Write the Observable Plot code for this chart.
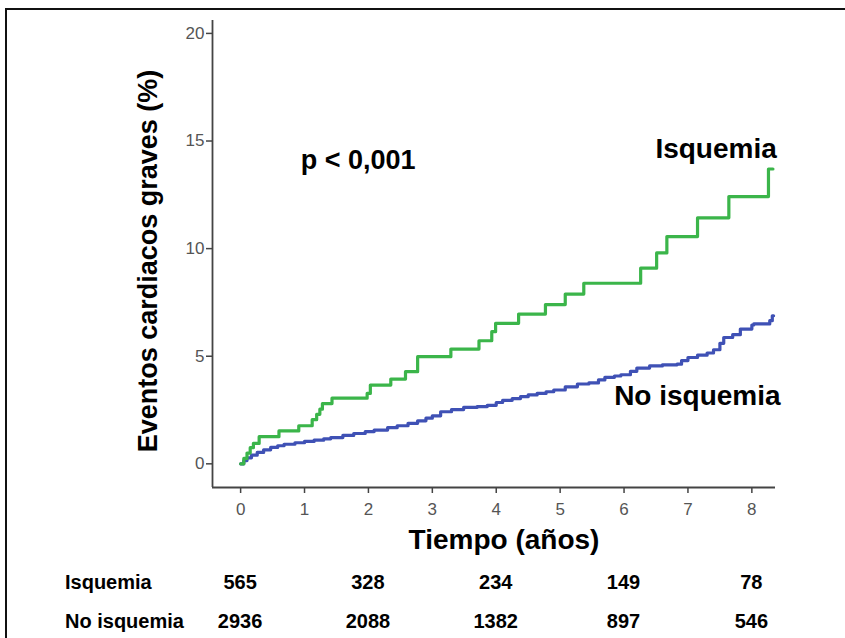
<!DOCTYPE html>
<html>
<head>
<meta charset="utf-8">
<script src="https://cdn.jsdelivr.net/npm/d3@7"></script>
<script src="https://cdn.jsdelivr.net/npm/@observablehq/plot@0.6"></script>
<style>
  html, body { margin: 0; padding: 0; background: #fff; width: 845px; height: 638px; overflow: hidden; }
  #frame { position: absolute; left: 5px; top: 8px; width: 900px; height: 700px; border-top: 2.5px solid #111; border-left: 2.5px solid #111; }
  #chart { position: absolute; left: 0; top: 0; }
  #chart svg { overflow: visible; }
</style>
</head>
<body>
<div id="frame"></div>
<div id="chart"></div>
<script>
// Isquemia (green) Kaplan-Meier step points: time (years), cumulative events (%)
const isqTime = [0, 0.05, 0.10, 0.15, 0.20, 0.29, 0.60, 0.91, 1.12, 1.19, 1.24, 1.28, 1.43, 1.98, 2.03, 2.35, 2.58, 2.77, 3.29, 3.73, 3.93, 3.99, 4.35, 4.77, 5.08, 5.37, 6.26, 6.51, 6.67, 7.15, 7.64, 8.26, 8.33];
const isqValue = [0, 0.25, 0.50, 0.75, 0.95, 1.26, 1.53, 1.77, 2.05, 2.30, 2.54, 2.80, 3.05, 3.27, 3.66, 3.94, 4.28, 4.98, 5.33, 5.72, 6.14, 6.53, 6.96, 7.40, 7.89, 8.39, 9.09, 9.80, 10.56, 11.43, 12.42, 13.70, 13.70];

// No isquemia (blue)
const noTime = [0, 0.05, 0.10, 0.17, 0.26, 0.36, 0.47, 0.58, 0.68, 0.85, 1.00, 1.15, 1.30, 1.41, 1.60, 1.77, 1.95, 2.09, 2.30, 2.45, 2.62, 2.77, 2.90, 3.00, 3.13, 3.30, 3.49, 3.70, 3.86, 4.00, 4.10, 4.25, 4.38, 4.50, 4.64, 4.78, 4.90, 5.08, 5.27, 5.45, 5.60, 5.70, 5.85, 5.95, 6.10, 6.20, 6.40, 6.60, 6.83, 6.90, 7.00, 7.15, 7.30, 7.40, 7.50, 7.56, 7.70, 7.82, 8.00, 8.03, 8.28, 8.32, 8.34];
const noValue = [0, 0.15, 0.28, 0.40, 0.53, 0.65, 0.76, 0.84, 0.91, 0.98, 1.04, 1.10, 1.16, 1.22, 1.32, 1.41, 1.50, 1.57, 1.68, 1.77, 1.88, 2.00, 2.12, 2.23, 2.42, 2.52, 2.62, 2.66, 2.72, 2.85, 2.95, 3.03, 3.12, 3.20, 3.27, 3.35, 3.43, 3.58, 3.71, 3.76, 3.90, 4.02, 4.08, 4.14, 4.30, 4.45, 4.55, 4.60, 4.63, 4.80, 4.94, 5.05, 5.15, 5.30, 5.60, 5.87, 6.00, 6.26, 6.45, 6.50, 6.65, 6.88, 6.88];

// Numbers at risk table
const riskYears = [0, 2, 4, 6, 8];
const riskIsq = [565, 328, 234, 149, 78];
const riskNo = [2936, 2088, 1382, 897, 546];
const rowLabels = ["Isquemia", "No isquemia"];

const xTicks = [0, 1, 2, 3, 4, 5, 6, 7, 8];
const yTicks = [0, 5, 10, 15, 20];
const xDomain = [-0.44, 8.37];
const yDomain = [-1.1, 20.6];

const GREEN = "#3bb54a";
const BLUE = "#3f51b5";
const boldFont = "'Liberation Sans', Arial, sans-serif";

const isq = isqTime.map((t, i) => ({t, v: isqValue[i]}));
const noi = noTime.map((t, i) => ({t, v: noValue[i]}));
const risk = riskYears.flatMap((y, i) => [
  {t: y, row: 0, n: riskIsq[i]},
  {t: y, row: 1, n: riskNo[i]}
]);

const plot = Plot.plot({
  width: 845,
  height: 638,
  marginLeft: 212,
  marginRight: 70,
  marginTop: 20,
  marginBottom: 151,
  style: {fontFamily: boldFont, background: "transparent", overflow: "visible"},
  x: {domain: xDomain, ticks: xTicks, label: null},
  y: {domain: yDomain, ticks: yTicks, label: null},
  marks: [
    Plot.axisX({ticks: xTicks, tickSize: 6, tickPadding: 9, fontSize: 17, color: "#555", stroke: "#444", strokeWidth: 1.5, label: null}),
    Plot.axisY({ticks: yTicks, tickSize: 6, tickPadding: 2, fontSize: 17, color: "#555", stroke: "#444", strokeWidth: 1.5, label: null}),
    Plot.ruleX([xDomain[0]], {stroke: "#444", strokeWidth: 1.8}),
    Plot.ruleY([yDomain[0]], {stroke: "#444", strokeWidth: 1.8}),
    Plot.line(noi, {x: "t", y: "v", curve: "step-after", stroke: BLUE, strokeWidth: 3.2}),
    Plot.line(isq, {x: "t", y: "v", curve: "step-after", stroke: GREEN, strokeWidth: 3.2}),
    Plot.text(["p < 0,001"], {x: 0.94, y: 14.1, text: d => d, textAnchor: "start", fontSize: 27, fontWeight: "bold", fill: "#000"}),
    Plot.text(["Isquemia"], {x: 8.39, y: 14.65, text: d => d, textAnchor: "end", fontSize: 28, fontWeight: "bold", fill: "#000"}),
    Plot.text(["No isquemia"], {x: 8.45, y: 3.16, text: d => d, textAnchor: "end", fontSize: 28, fontWeight: "bold", fill: "#000"}),
    Plot.text(["Tiempo (años)"], {frameAnchor: "bottom", dx: 10, dy: 61, text: d => d, fontSize: 28, fontWeight: "bold", fill: "#000"})
  ]
});

const svg = d3.select(plot);
const xs = plot.scale("x");

// Y axis title
svg.append("text")
  .attr("transform", "translate(148,261) rotate(-90)")
  .attr("text-anchor", "middle").attr("dy", "0.35em")
  .attr("font-family", boldFont).attr("font-weight", "bold").attr("font-size", 27).attr("fill", "#000")
  .text("Eventos cardiacos graves (%)");

// Numbers at risk table, columns placed with the plot's x scale
const rowY = [582, 621];
const g = svg.append("g").attr("font-family", boldFont).attr("font-weight", "bold").attr("font-size", 20).attr("fill", "#000");
rowLabels.forEach((lab, r) => {
  g.append("text").attr("x", 65).attr("y", rowY[r]).attr("dy", "0.35em").attr("text-anchor", "start").text(lab);
});
risk.forEach(d => {
  g.append("text").attr("x", xs.apply(d.t)).attr("y", rowY[d.row]).attr("dy", "0.35em").attr("text-anchor", "middle").text(d.n);
});

document.getElementById("chart").appendChild(plot);
</script>
</body>
</html>
